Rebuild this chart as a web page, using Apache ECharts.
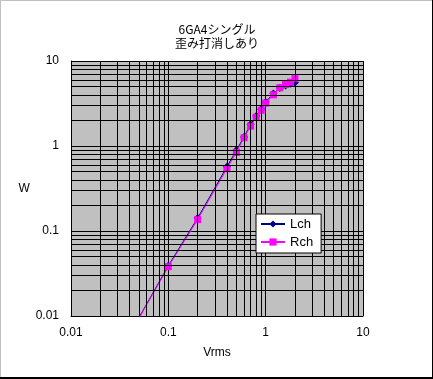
<!DOCTYPE html>
<html><head><meta charset="utf-8">
<script src="https://cdn.jsdelivr.net/npm/echarts@6/dist/echarts.min.js"></script>
<style>html,body{margin:0;padding:0;background:#fff}#c{width:433px;height:379px}</style>
</head><body><div id="c"></div>
<script>
var vrms = [0.05, 0.1, 0.2, 0.4, 0.5, 0.6, 0.7, 0.8, 0.9, 1.0, 1.2, 1.4, 1.6, 1.8, 2.0];
var lch  = [0.0096, 0.039, 0.142, 0.57, 0.89, 1.28, 1.8, 2.25, 2.7, 3.3, 4.15, 4.8, 5.15, 5.4, 5.6];
var rch  = [0.0094, 0.038, 0.136, 0.54, 0.84, 1.25, 1.71, 2.18, 2.63, 3.2, 4.0, 4.85, 5.3, 5.65, 6.2];
var titleLines = ['6GA4シングル', '歪み打消しあり'];
var decades = [0.01, 0.1, 1];
var minorMult = [2, 3, 4, 5, 6, 7, 8, 9];

var minorVals = [];
decades.forEach(function(d){ minorMult.forEach(function(m){ minorVals.push(+(d*m).toPrecision(3)); }); });
var mlData = [];
minorVals.forEach(function(v){ mlData.push({xAxis: v}); mlData.push({yAxis: v}); });

function pairs(ys){ return vrms.map(function(x,i){ return [x, ys[i]]; }); }
var font = 'Liberation Sans, Arial, sans-serif';
var chart = echarts.init(document.getElementById('c'), null, {renderer:'canvas'});
chart.setOption({
  animation: false,
  backgroundColor: '#fff',
  title: {
    text: titleLines.join('\n'), left: 212, top: 17, textAlign: 'center',
    textStyle: {fontFamily: 'Noto Sans CJK JP, sans-serif', fontSize: 12, fontWeight: 'normal', color: '#000', lineHeight: 14}
  },
  grid: {left: 71, right: 70, top: 61, bottom: 63, show: true, backgroundColor: '#c0c0c0', borderWidth: 0},
  legend: {
    data: ['Lch', 'Rch'], orient: 'vertical', left: 256, top: 214, z: 20,
    backgroundColor: '#fff', borderColor: '#000', borderWidth: 1, borderRadius: 0,
    padding: [3, 8, 4, 4], itemGap: 4, itemWidth: 24, itemHeight: 9,
    textStyle: {fontFamily: font, fontSize: 13, color: '#000', lineHeight: 14}
  },
  xAxis: {
    type: 'log', logBase: 10, min: 0.01, max: 10,
    name: 'Vrms', nameLocation: 'middle', nameGap: 31,
    nameTextStyle: {fontFamily: font, fontSize: 12, color: '#000'},
    axisLine: {show: true, lineStyle: {color: '#000', width: 1}},
    axisTick: {show: false},
    axisLabel: {fontFamily: font, fontSize: 12, color: '#000', margin: 11,
      formatter: function(v){ return String(+v.toPrecision(3)); }},
    splitLine: {show: true, lineStyle: {color: '#000', width: 1}}
  },
  yAxis: {
    type: 'log', logBase: 10, min: 0.01, max: 10,
    name: 'W', nameLocation: 'middle', nameGap: 40, nameRotate: 0,
    nameTextStyle: {fontFamily: font, fontSize: 12, color: '#000'},
    axisLine: {show: true, lineStyle: {color: '#000', width: 1}},
    axisTick: {show: false},
    axisLabel: {fontFamily: font, fontSize: 12, color: '#000', margin: 12,
      formatter: function(v){ return String(+v.toPrecision(3)); }},
    splitLine: {show: true, lineStyle: {color: '#000', width: 1}}
  },
  series: [
    {name: 'minor', type: 'line', data: [], z: 1, silent: true,
      markLine: {silent: true, symbol: 'none', label: {show: false}, animation: false,
        lineStyle: {color: '#000', width: 1, type: 'solid'}, data: mlData}},
    {name: 'Lch', type: 'line', data: pairs(lch), z: 3, clip: true,
      symbol: 'diamond', symbolSize: 8, showAllSymbol: true,
      lineStyle: {color: '#000080', width: 1}, itemStyle: {color: '#000080', borderWidth: 0}},
    {name: 'Rch', type: 'line', data: pairs(rch), z: 4, clip: true,
      symbol: 'rect', symbolSize: 7, showAllSymbol: true,
      lineStyle: {color: '#ff00ff', width: 1}, itemStyle: {color: '#ff00ff', borderWidth: 0}}
  ],
  graphic: [
    {type: 'line', shape: {x1: 0.5, y1: 0, x2: 0.5, y2: 379}, style: {stroke: '#c0c0c0', lineWidth: 1}},
    {type: 'line', shape: {x1: 0, y1: 0.5, x2: 433, y2: 0.5}, style: {stroke: '#c0c0c0', lineWidth: 1}},
    {type: 'line', shape: {x1: 432.5, y1: 0, x2: 432.5, y2: 379}, style: {stroke: '#000', lineWidth: 1}},
    {type: 'line', shape: {x1: 0, y1: 378, x2: 433, y2: 378}, style: {stroke: '#000', lineWidth: 2}}
  ]
});
</script></body></html>
